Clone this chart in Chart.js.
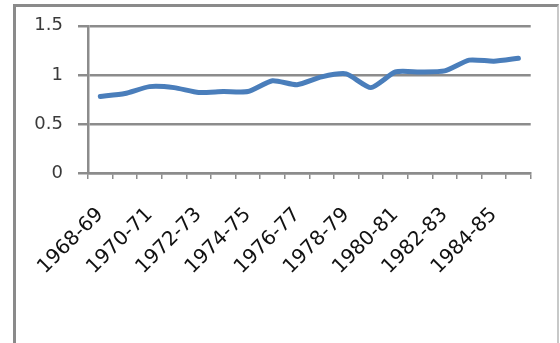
<!DOCTYPE html>
<html>
<head>
<meta charset="utf-8">
<script src="https://cdn.jsdelivr.net/npm/chart.js@4/dist/chart.umd.min.js"></script>
<style>
  html, body { margin: 0; padding: 0; background: #fff; }
  #wrap { position: relative; width: 560px; height: 343px; overflow: hidden; }
  #frame {
    position: absolute; left: 13px; top: 4px; width: 541px; height: 336px;
    border-left: 3px solid #8a8a8a; border-top: 3px solid #8a8a8a;
    border-right: 2px solid #c8c8c8; border-bottom: 2px solid #b0b0b0;
    pointer-events: none;
  }
  canvas { position: absolute; left: 0; top: 0; }
</style>
</head>
<body>
<div id="wrap">
  <canvas id="c" width="560" height="343"></canvas>
  <div id="frame"></div>
</div>
<script>
// Fiscal years, one per point
const years = [
  '1968-69', '1969-70', '1970-71', '1971-72', '1972-73', '1973-74',
  '1974-75', '1975-76', '1976-77', '1977-78', '1978-79', '1979-80',
  '1980-81', '1981-82', '1982-83', '1983-84', '1984-85', '1985-86'
];
// Ratio for each year
const ratio = [
  0.78, 0.81, 0.88, 0.87, 0.82, 0.83,
  0.83, 0.94, 0.90, 0.98, 1.01, 0.87,
  1.03, 1.03, 1.04, 1.15, 1.14, 1.17
];
// Value axis range and step
const yMin = 0, yMax = 1.5, yStep = 0.5;

const axisGray = '#8c8c8c';

new Chart(document.getElementById('c'), {
  type: 'line',
  data: {
    labels: years,
    datasets: [{
      data: ratio,
      borderColor: '#4a7ebb',
      borderWidth: 5,
      borderCapStyle: 'round',
      borderJoinStyle: 'round',
      tension: 0.2,
      pointRadius: 0,
      fill: false
    }]
  },
  options: {
    responsive: false,
    animation: false,
    layout: { padding: { left: 0, top: 23, right: 22, bottom: 0 } },
    plugins: { legend: { display: false }, tooltip: { enabled: false } },
    scales: {
      x: {
        offset: true,
        grid: {
          offset: true,
          drawOnChartArea: false,
          drawTicks: true,
          tickLength: 6,
          color: axisGray,
          lineWidth: 1.5
        },
        border: { color: axisGray, width: 2.5 },
        ticks: {
          autoSkip: false,
          minRotation: 45,
          maxRotation: 45,
          padding: 24,
          color: '#111',
          font: { family: 'DejaVu Sans, sans-serif', size: 20 },
          callback: (v, i) => (i % 2 === 0 ? years[i] : '')
        },
        afterFit: s => { s.height = 170; }
      },
      y: {
        min: yMin,
        max: yMax,
        ticks: {
          stepSize: yStep,
          padding: 15,
          color: '#3a3a3a',
          font: { family: 'DejaVu Sans, sans-serif', size: 18 },
          callback: v => String(Number(v.toFixed(2)))
        },
        grid: {
          color: axisGray,
          lineWidth: 2.5,
          tickLength: 10
        },
        border: { color: axisGray, width: 2.5 },
        afterFit: s => { s.width = 88; }
      }
    }
  }
});
</script>
</body>
</html>
